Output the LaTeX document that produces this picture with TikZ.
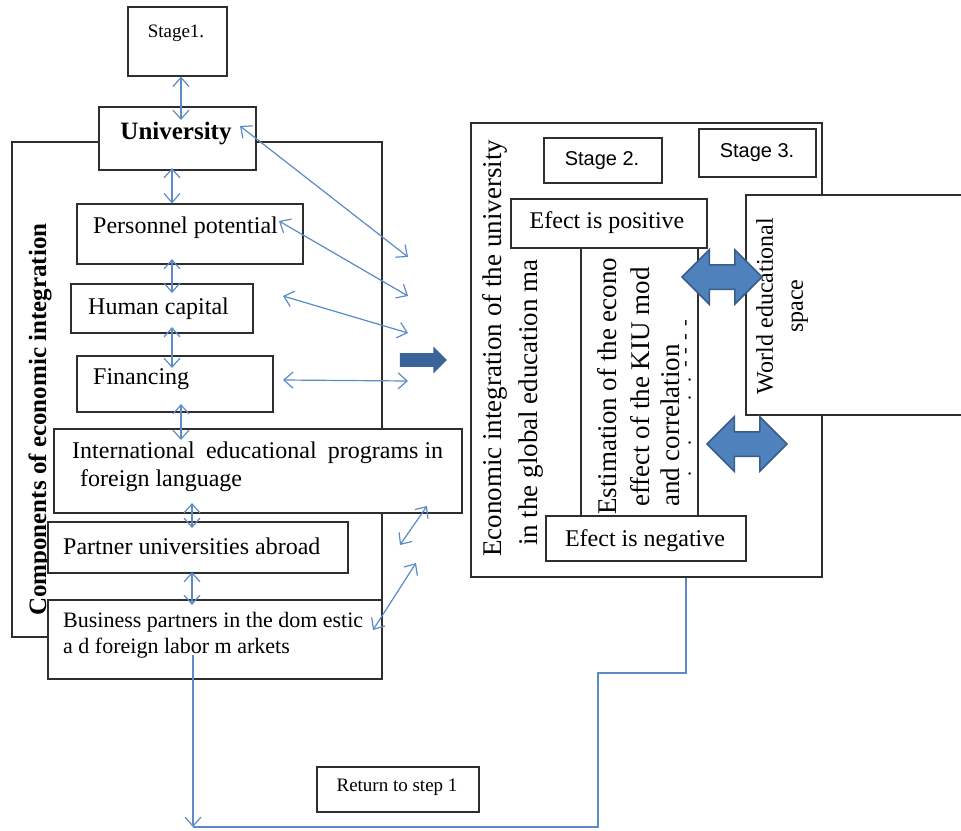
\documentclass[tikz,border=0pt]{standalone}
\usepackage{fontspec}
\setmainfont{Liberation Serif}
\newfontfamily\arialf{Liberation Sans}
\usetikzlibrary{arrows.meta,shapes.arrows,fit}
\definecolor{lnk}{HTML}{5B8BC8}
\definecolor{arrfill}{HTML}{4F81BD}
\definecolor{arrdraw}{HTML}{385D8A}
\definecolor{darkarr}{HTML}{3A6499}
\definecolor{boxline}{HTML}{2E2E2E}
\begin{document}
\begin{tikzpicture}[x=1pt,y=-1pt,
  box/.style={draw=boxline, line width=1.3pt, fill=white, inner sep=0pt, rectangle},
  txt/.style={inner sep=0pt, text=black, font=\fontsize{24}{28}\selectfont},
  vtxt/.style={inner sep=0pt, text=black, rotate=90, anchor=west, font=\fontsize{27}{30}\selectfont},
  link/.style={draw=lnk, line width=1.2pt, {Straight Barb[length=9pt,width=16pt]}-{Straight Barb[length=9pt,width=16pt]}},
  onelink/.style={draw=lnk, line width=1.2pt, -{Straight Barb[length=9pt,width=16pt]}},
  plainlink/.style={draw=lnk, line width=1.2pt},
  bigdbl/.style={double arrow, draw=arrdraw, fill=arrfill, line width=1.5pt, text height=0pt, text depth=0pt, text width=0pt, inner xsep=0pt, inner ysep=11.5pt, minimum width=0pt, minimum height=80pt, double arrow head extend=15pt, double arrow tip angle=90},
]
\useasboundingbox[fill=white] (0,0) rectangle (961,830);

% big frames
\node[box, fit={(12,142) (382,637)}] (leftbig) {};
\node[box, fit={(471,123) (822,577)}] (rightbig) {};

% left column boxes
\node[box, fit={(128,7) (227,76)}] (stage1) {};
\node[txt, font=\fontsize{19}{22}\selectfont] (stage1t) at (176,33) {Stage1.};
\node[box, fit={(99,107) (256,170)}] (univ) {};
\node[txt, font=\bfseries\fontsize{25}{28}\selectfont, anchor=base] (univt) at (176,139) {University};

\node[txt, font=\bfseries\fontsize{25}{28}\selectfont, rotate=90, anchor=west] (compt) at (40,616) {Components of economic integration};

\node[box, fit={(77,204) (303,264)}] (pers) {};
\node[txt, anchor=west] (perst) at (93,228) {Personnel potential};
\node[box, fit={(71,284) (253,333)}] (human) {};
\node[txt, anchor=west] (humant) at (88,309) {Human capital};
\node[box, fit={(77,356) (273,412)}] (fin) {};
\node[txt, anchor=west] (fint) at (93,379) {Financing};
\node[box, fit={(54,429) (462,513)}] (intl) {};
\node[txt, anchor=west] (intlt1) at (72,453) {\hbox to 371pt{International\hfil\ educational\hfil\ programs in}};
\node[txt, anchor=west] (intlt2) at (80,481) {foreign language};
\node[box, fit={(48,522) (348,573)}] (partner) {};
\node[txt, anchor=west] (partnert) at (63,546) {Partner universities abroad};
\node[box, fit={(48,600) (382,679)}] (business) {};
\node[txt, anchor=west, font=\fontsize{22}{26}\selectfont] (businesst1) at (63,622) {Business partners in the dom estic};
\node[txt, anchor=west, font=\fontsize{22}{26}\selectfont] (businesst2) at (63,648) {a d foreign labor m arkets};
\node[box, fit={(317,767) (479,812)}] (ret) {};
\node[txt, font=\fontsize{19}{22}\selectfont] (rett) at (397,787) {Return to step 1};

% right area
\node[vtxt] (econ1) at (495,557) {Economic integration of the university};
\node[vtxt] (econ2) at (531,546) {in the global education ma};
\node[box, fit={(581,247) (698,516)}] (estim) {};
\node[vtxt] (est1) at (607,515) {Estimation of the econo};
\node[vtxt] (est2) at (640,507) {effect of the KIU mod};
\node[vtxt] (est3) at (670,507) {and correlation};
\node[vtxt, font=\fontsize{20}{24}\selectfont] (est4) at (688,477) {.\hspace{26pt}.\hspace{40pt}.\hspace{13pt}.\hspace{10pt}-\hspace{7pt}-\hspace{7pt}-\hspace{7pt}-};

\node[box, fit={(544,138) (662,183)}] (stage2) {};
\node[txt, font=\arialf\fontsize{20}{24}\selectfont] (stage2t) at (602,161) {Stage 2.};
\node[box, fit={(699,129) (816,177)}] (stage3) {};
\node[txt, font=\arialf\fontsize{20}{24}\selectfont] (stage3t) at (757,153) {Stage 3.};
\node[box, fit={(511,199) (707,248)}] (effpos) {};
\node[txt] (effpost) at (607,223) {Efect is positive};
\node[box, fit={(546,516) (746,561)}] (effneg) {};
\node[txt] (effnegt) at (645,541) {Efect is negative};
\node[box, fit={(746,195) (975,415)}] (world) {};
\node[txt, rotate=90, align=center, font=\fontsize{24}{30}\selectfont] (worldt) at (782,306) {World educational\\space};

% big arrows
\node[bigdbl] (dbl1) at (722,277) {};
\node[bigdbl] (dbl2) at (747,444) {};
\node[single arrow, draw=darkarr, fill=darkarr, line width=0.8pt, text height=0pt, text depth=0pt, text width=0pt, inner xsep=0pt, inner ysep=6pt, minimum width=0pt, minimum height=46pt, single arrow head extend=6pt] (rarrow) at (420,360) {};

% thin connectors
\coordinate (c1) at (181,120);
\draw[link] (stage1.south -| c1) -- (c1);
\coordinate (c2) at (172,168);
\draw[link] (c2) -- (pers.north -| c2);
\coordinate (c3) at (172,259);
\draw[link] (c3) -- (c3 |- 0,293);
\coordinate (c4) at (172,327);
\draw[link] (c4) -- (c4 |- 0,368);
\coordinate (c5) at (181,404);
\draw[link] (c5) -- (c5 |- 0,440);
\coordinate (c6) at (192,503);
\draw[link] (c6) -- (c6 |- 0,528);
\coordinate (c7) at (192,572);
\draw[link] (c7) -- (c7 |- 0,605);

\coordinate (u1) at (240,126);
\coordinate (u2) at (408,257);
\draw[link] (u1) -- (u2);
\coordinate (p1) at (279,221);
\coordinate (p2) at (408,296);
\draw[link] (p1) -- (p2);
\coordinate (h1) at (283,296);
\coordinate (h2) at (408,333);
\draw[link] (h1) -- (h2);
\coordinate (f1) at (283,380);
\coordinate (f2) at (408,381);
\draw[link] (f1) -- (f2);
\coordinate (i1) at (400,545);
\coordinate (i2) at (427,506);
\draw[link] (i1) -- (i2);
\coordinate (b1) at (373,630);
\coordinate (b2) at (416,563);
\draw[link] (b1) -- (b2);

% return loop
\coordinate (r0) at (193,655);
\coordinate (r1) at (193,827);
\coordinate (r2) at (598,827);
\coordinate (r3) at (598,673);
\coordinate (r4) at (686,673);
\draw[onelink] (r0) -- (r1);
\draw[plainlink] (r1) -- (r2) -- (r3) -- (r4) -- (rightbig.south -| r4);
\end{tikzpicture}
\end{document}
